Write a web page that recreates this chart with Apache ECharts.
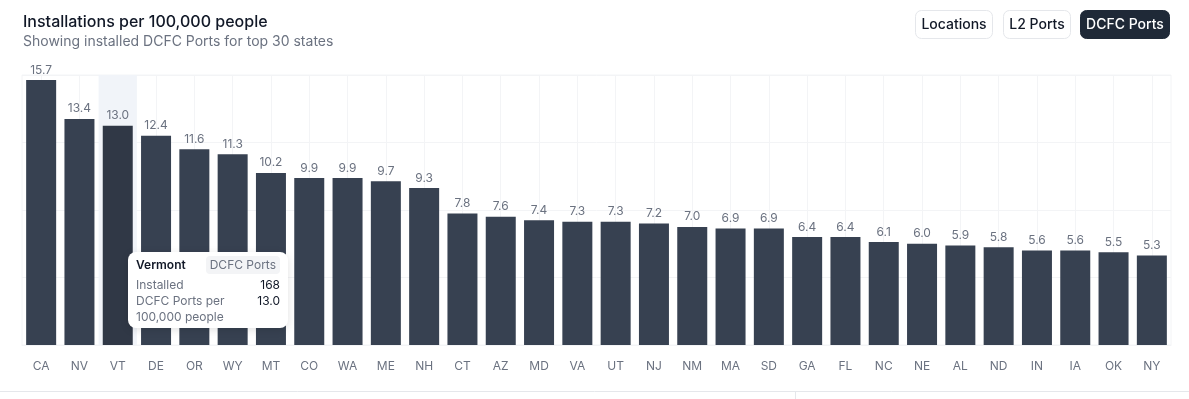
<!DOCTYPE html>
<html>
<head>
<meta charset="utf-8">
<script src="https://cdn.jsdelivr.net/npm/echarts@6/dist/echarts.min.js"></script>
<style>
  html, body { margin: 0; padding: 0; background: #fff; }
  #chart { width: 1189px; height: 399px; }
</style>
</head>
<body>
<div id="chart"></div>
<script>
var states = ['CA', 'NV', 'VT', 'DE', 'OR', 'WY', 'MT', 'CO', 'WA', 'ME', 'NH', 'CT', 'AZ', 'MD', 'VA',
              'UT', 'NJ', 'NM', 'MA', 'SD', 'GA', 'FL', 'NC', 'NE', 'AL', 'ND', 'IN', 'IA', 'OK', 'NY'];
var perCapita = [15.7, 13.4, 13.0, 12.4, 11.6, 11.3, 10.2, 9.9, 9.9, 9.7, 9.3, 7.8, 7.6, 7.4, 7.3,
                 7.3, 7.2, 7.0, 6.9, 6.9, 6.4, 6.4, 6.1, 6.0, 5.9, 5.8, 5.6, 5.6, 5.5, 5.3];
var buttonLabels = ['Locations', 'L2 Ports', 'DCFC Ports'];
var activeButton = 2;

// tooltip shown for Vermont
var tipIndex = 2;
var tipStateName = 'Vermont';
var tipInstalled = 168;

var myChart = echarts.init(document.getElementById('chart'));

// buttons in the top right
var btnBoxes = [
    { x: 915, w: 77 },
    { x: 1003, w: 67 },
    { x: 1080, w: 89 }
];
var graphics = [];
for (var i = 0; i < buttonLabels.length; i++) {
    var on = i == activeButton;
    graphics.push({
        type: 'group',
        left: btnBoxes[i].x,
        top: 10,
        children: [
            {
                type: 'rect',
                shape: { x: 0, y: 0, width: btnBoxes[i].w, height: 28, r: 6 },
                style: { fill: on ? '#1f2937' : '#fff', stroke: on ? '#1f2937' : '#e5e7eb', lineWidth: 1 }
            },
            {
                type: 'text',
                x: btnBoxes[i].w / 2,
                y: 14,
                style: {
                    text: buttonLabels[i],
                    fill: on ? '#fff' : '#111827',
                    font: '500 14px Inter',
                    align: 'center',
                    verticalAlign: 'middle'
                }
            }
        ]
    });
}
// bottom divider lines
graphics.push({
    type: 'line',
    shape: { x1: 0, y1: 391.5, x2: 1189, y2: 391.5 },
    style: { stroke: '#e5e7eb', lineWidth: 1 }
});
graphics.push({
    type: 'line',
    shape: { x1: 795.5, y1: 391, x2: 795.5, y2: 399 },
    style: { stroke: '#e5e7eb', lineWidth: 1 }
});

// vertical grid lines sit on category centres
var centreLines = [];
for (var i = 0; i < states.length; i++) {
    centreLines.push({ xAxis: states[i] });
}

option = {
    animation: false,
    backgroundColor: '#fff',
    textStyle: { fontFamily: 'Inter' },
    title: {
        text: 'Installations per 100,000 people',
        subtext: 'Showing installed DCFC Ports for top 30 states',
        left: 18,
        top: 9,
        itemGap: 5,
        textStyle: { fontFamily: 'Inter', fontSize: 16, fontWeight: 500, color: '#111827' },
        subtextStyle: { fontFamily: 'Inter', fontSize: 14, color: '#6b7280' }
    },
    graphic: graphics,
    grid: {
        left: 22,
        right: 18,
        top: 75,
        bottom: 54,
        show: true,
        borderColor: '#f3f4f6',
        borderWidth: 1
    },
    tooltip: {
        trigger: 'axis',
        triggerOn: 'none',
        alwaysShowContent: true,
        transitionDuration: 0,
        padding: [3, 8, 3, 8],
        backgroundColor: '#fff',
        borderColor: '#e5e7eb',
        borderWidth: 0,
        borderRadius: 8,
        extraCssText: 'box-shadow:0 2px 8px rgba(0,0,0,0.12);',
        axisPointer: {
            type: 'shadow',
            z: 1,
            shadowStyle: { color: '#f1f4f9', opacity: 1 }
        },
        position: function () {
            return [128, 252];
        },
        formatter: function (params) {
            var v = params[0].value;
            return '<div style="width:144px;font-family:Inter;font-size:12px;line-height:16px;color:#6b7280">' +
                '<div style="display:flex;justify-content:space-between;align-items:center;margin-bottom:3px;margin-top:1px">' +
                '<span style="color:#111827;font-weight:600">' + tipStateName + '</span>' +
                '<span style="background:#f3f4f6;border-radius:4px;padding:1px 4px;font-size:12px;color:#6b7280">DCFC Ports</span></div>' +
                '<div style="display:flex;justify-content:space-between"><span>Installed</span>' +
                '<span style="color:#111827">' + tipInstalled + '</span></div>' +
                '<div style="display:flex;justify-content:space-between"><span style="width:100px;white-space:normal">DCFC Ports per 100,000 people</span>' +
                '<span style="color:#111827">' + v.toFixed(1) + '</span></div>' +
                '</div>';
        }
    },
    xAxis: {
        type: 'category',
        data: states,
        axisLine: { show: true, lineStyle: { color: '#f3f4f6' } },
        axisTick: { show: false },
        axisLabel: { color: '#6b7280', fontSize: 12, margin: 15 },
        splitLine: { show: false }
    },
    yAxis: {
        type: 'value',
        min: 0,
        max: 16,
        interval: 4,
        axisLabel: { show: false },
        axisLine: { show: false },
        axisTick: { show: false },
        splitLine: { show: true, lineStyle: { color: '#f3f4f6' } }
    },
    series: [
        {
            type: 'bar',
            data: perCapita,
            barWidth: 30,
            z: 2,
            itemStyle: { color: '#374151' },
            emphasis: { itemStyle: { color: '#303846' } },
            label: {
                show: true,
                position: 'top',
                distance: 4,
                color: '#6b7280',
                fontSize: 12,
                formatter: function (p) { return p.value.toFixed(1); }
            },
            markLine: {
                silent: true,
                z: 1,
                symbol: 'none',
                label: { show: false },
                lineStyle: { color: '#f3f4f6', type: 'solid', width: 1 },
                data: centreLines
            }
        }
    ]
};

myChart.setOption(option);
myChart.dispatchAction({ type: 'showTip', seriesIndex: 0, dataIndex: tipIndex });
window.onresize = myChart.resize;
</script>
</body>
</html>
